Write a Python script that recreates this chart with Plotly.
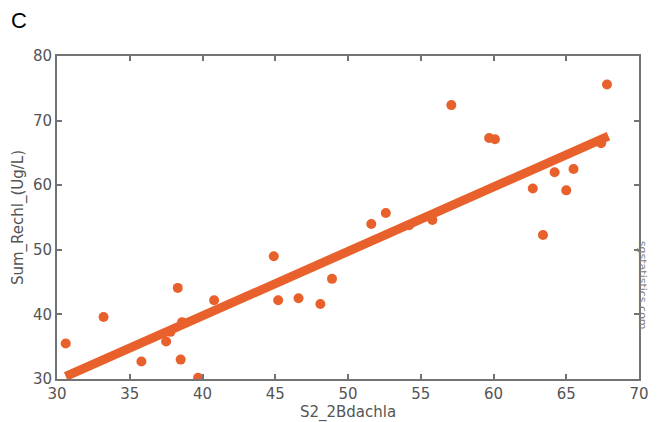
import plotly.graph_objects as go

# Data
s2_2bdachla = [30.6, 33.2, 35.8, 37.5, 37.8, 38.3, 38.5, 38.6, 39.7, 40.8,
               44.9, 45.2, 46.6, 48.1, 48.9, 51.6, 52.6, 54.2, 55.8, 57.1,
               59.7, 60.1, 62.7, 63.4, 64.2, 65.0, 65.5, 67.4, 67.8]
sum_rechl = [35.5, 39.6, 32.7, 35.8, 37.3, 44.1, 33.0, 38.8, 30.2, 42.2,
             49.0, 42.2, 42.5, 41.6, 45.5, 54.0, 55.7, 53.8, 54.6, 72.4,
             67.3, 67.1, 59.5, 52.3, 62.0, 59.2, 62.5, 66.5, 75.6]
fit_x = [30.6, 67.9]
fit_y = [30.4, 67.6]
x_ticks = [30, 35, 40, 45, 50, 55, 60, 65, 70]
y_ticks = [30, 40, 50, 60, 70, 80]

ORANGE = "#E8612C"
GRAY = "#737373"
TXT = "#555555"
FONT = "DejaVu Sans"

fig = go.Figure()
fig.add_trace(go.Scatter(x=s2_2bdachla, y=sum_rechl, mode="markers",
                         marker=dict(color=ORANGE, size=10, line=dict(width=0)),
                         showlegend=False))
fig.add_trace(go.Scatter(x=fit_x, y=fit_y, mode="lines",
                         line=dict(color=ORANGE, width=9),
                         showlegend=False))

axis_common = dict(showgrid=False, zeroline=False, showline=True, linecolor=GRAY,
                   linewidth=2, mirror="ticks", ticks="inside", ticklen=5,
                   tickcolor=GRAY, tickwidth=1.5, automargin=False,
                   tickfont=dict(family=FONT, size=15, color=TXT))

fig.update_layout(
    width=663, height=422,
    margin=dict(l=49, r=32, t=48, b=51, autoexpand=False),
    plot_bgcolor="white", paper_bgcolor="white",
    xaxis=dict(range=[30, 70], tickvals=x_ticks, **axis_common,
               title=dict(text="S2_2Bdachla", font=dict(family=FONT, size=15, color=TXT),
                          standoff=0)),
    yaxis=dict(range=[30, 80], tickvals=y_ticks, **axis_common,
               title=dict(text="Sum_Rechl_(Ug/L)", font=dict(family=FONT, size=15, color=TXT),
                          standoff=6)),
    annotations=[
        dict(text="C", x=-0.082, y=1.155, xref="paper", yref="paper", showarrow=False,
             xanchor="left", yanchor="top",
             font=dict(family="Liberation Sans", size=22, color="black")),
        dict(text="sgstatistics.com", x=1.006, y=0.29, xref="paper", yref="paper",
             showarrow=False, textangle=90, xanchor="center", yanchor="middle",
             font=dict(family=FONT, size=11, color="#808080")),
    ],
)
fig.write_html("out.html")
